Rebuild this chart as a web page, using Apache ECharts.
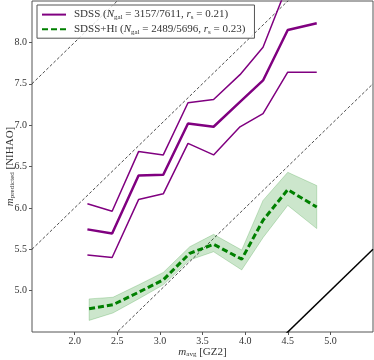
<!DOCTYPE html>
<html>
<head>
<meta charset="utf-8">
<script src="https://cdn.jsdelivr.net/npm/echarts@6/dist/echarts.min.js"></script>
<style>
  html, body { margin: 0; padding: 0; background: #fff; }
  #chart { width: 374px; height: 360px; }
</style>
</head>
<body>
<div id="chart"></div>
<script>
// SDSS bins
const sdssX = [2.15, 2.44, 2.75, 3.04, 3.33, 3.63, 3.94, 4.21, 4.50, 4.84]
const sdssMid = [5.74, 5.69, 6.39, 6.40, 7.02, 6.98, 7.28, 7.54, 8.15, 8.23]
const sdssHigh = [6.05, 5.96, 6.68, 6.64, 7.27, 7.31, 7.61, 7.94, 8.70, 8.85]
const sdssLow = [5.43, 5.40, 6.10, 6.17, 6.78, 6.64, 6.98, 7.14, 7.64, 7.64]

// SDSS+HI bins
const hiX = [2.17, 2.45, 2.75, 3.04, 3.35, 3.63, 3.96, 4.21, 4.50, 4.84]
const hiMid = [4.78, 4.83, 4.98, 5.13, 5.45, 5.56, 5.38, 5.85, 6.22, 6.01]
const hiHigh = [4.90, 4.92, 5.07, 5.22, 5.53, 5.68, 5.49, 6.09, 6.43, 6.27]
const hiLow = [4.64, 4.73, 4.90, 5.07, 5.37, 5.47, 5.25, 5.64, 6.03, 5.75]

// y = x + offset guide lines
const diagOffsets = [0, 2, 4, 6]
const xRange = [1.5, 5.5]
const yRange = [4.5, 8.5]

const FONT = 'Liberation Serif'
const zip = (xs, ys) => xs.map((x, i) => [x, ys[i]])

const legendText = {
  'SDSS': '{n|SDSS (}{i|N}{s|gal}{n| = 3157/7611, }{i|r}{s|s}{n| = 0.21)}',
  'SDSS+HI': '{n|SDSS+H}{sc|I}{n| (}{i|N}{s|gal}{n| = 2489/5696, }{i|r}{s|s}{n| = 0.23)}'
}
const rich = {
  n: {fontFamily: FONT, fontSize: 11, color: '#333'},
  i: {fontFamily: FONT, fontSize: 11, fontStyle: 'italic', color: '#333'},
  s: {fontFamily: FONT, fontSize: 7, color: '#333', padding: [5, 0, 0, 0]},
  sc: {fontFamily: FONT, fontSize: 8.5, color: '#333', padding: [2, 0, 0, 0]}
}
const nameRich = {
  n: {fontFamily: FONT, fontSize: 11, color: '#333'},
  i: {fontFamily: FONT, fontSize: 11, fontStyle: 'italic', color: '#333'},
  s: {fontFamily: FONT, fontSize: 7, color: '#333', padding: [5, 0, 0, 0]}
}

let series = []
diagOffsets.forEach(o => {
  series.push({
    type: 'line',
    data: [[xRange[0], xRange[0] + o], [xRange[1], xRange[1] + o]],
    symbol: 'none',
    silent: true,
    lineStyle: o === 0 ? {color: '#000', width: 1.5} : {color: '#000', width: 0.7, type: [3, 2]},
    z: 1
  })
})

series.push({
  type: 'custom',
  name: 'band',
  data: zip(hiX, hiMid),
  renderItem: (params, api) => {
    if (params.dataIndex !== 0) return null
    let pts = hiX.map((x, i) => api.coord([x, hiHigh[i]]))
    for (let i = hiX.length - 1; i >= 0; i--) pts.push(api.coord([hiX[i], hiLow[i]]))
    return {
      type: 'polygon',
      shape: {points: pts},
      style: {fill: 'rgba(0,128,0,0.2)', stroke: 'rgba(0,128,0,0.2)', lineWidth: 1}
    }
  },
  silent: true,
  z: 2
})

series.push({
  type: 'line', name: 'sdssHigh', data: zip(sdssX, sdssHigh), symbol: 'none',
  lineStyle: {color: '#800080', width: 1.5}, z: 3
})
series.push({
  type: 'line', name: 'sdssLow', data: zip(sdssX, sdssLow), symbol: 'none',
  lineStyle: {color: '#800080', width: 1.5}, z: 3
})
series.push({
  type: 'line', name: 'SDSS', data: zip(sdssX, sdssMid), symbol: 'none',
  color: '#800080', lineStyle: {color: '#800080', width: 2.5}, z: 4
})
series.push({
  type: 'line', name: 'SDSS+HI', data: zip(hiX, hiMid), symbol: 'none',
  color: '#008000', lineStyle: {color: '#008000', width: 3, type: [6, 3]}, z: 4
})

const chart = echarts.init(document.getElementById('chart'))
chart.setOption({
  animation: false,
  grid: {
    left: 32, right: 1, top: 1, bottom: 28,
    containLabel: false, outerBoundsMode: 'none',
    show: true, borderColor: '#555', borderWidth: 1
  },
  legend: {
    data: ['SDSS', 'SDSS+HI'],
    orient: 'vertical',
    left: 37, top: 5,
    padding: [4, 9, 3, 4],
    itemWidth: 24, itemHeight: 14, itemGap: 3,
    backgroundColor: 'rgba(255,255,255,0.8)',
    borderColor: '#555', borderWidth: 1, borderRadius: 0,
    selectedMode: false,
    itemStyle: {opacity: 0, color: 'transparent', borderWidth: 0},
    formatter: name => legendText[name],
    textStyle: {rich: rich, padding: [0, 0, 0, 3]}
  },
  xAxis: {
    type: 'value', min: xRange[0], max: xRange[1], interval: 0.5,
    name: '{i|m}{s|avg}{n| [GZ2]}', nameLocation: 'middle', nameGap: 14,
    nameMoveOverlap: false,
    nameTextStyle: {rich: nameRich},
    splitLine: {show: false},
    axisLine: {show: false},
    axisTick: {show: true, length: 3, lineStyle: {color: '#555'}},
    axisLabel: {
      fontFamily: FONT, fontSize: 10, color: '#333', margin: 4,
      showMinLabel: false, showMaxLabel: false,
      formatter: v => v.toFixed(1)
    }
  },
  yAxis: {
    type: 'value', min: yRange[0], max: yRange[1], interval: 0.5,
    name: '{i|m}{s|predicted}{n| [NIHAO]}', nameLocation: 'middle', nameGap: 16, nameRotate: 90,
    nameMoveOverlap: false,
    nameTextStyle: {rich: nameRich},
    splitLine: {show: false},
    axisLine: {show: false},
    axisTick: {show: true, length: 3, lineStyle: {color: '#555'}},
    axisLabel: {
      fontFamily: FONT, fontSize: 10, color: '#333', margin: 5,
      showMinLabel: false, showMaxLabel: false,
      formatter: v => v.toFixed(1)
    }
  },
  series: series
})
</script>
</body>
</html>
